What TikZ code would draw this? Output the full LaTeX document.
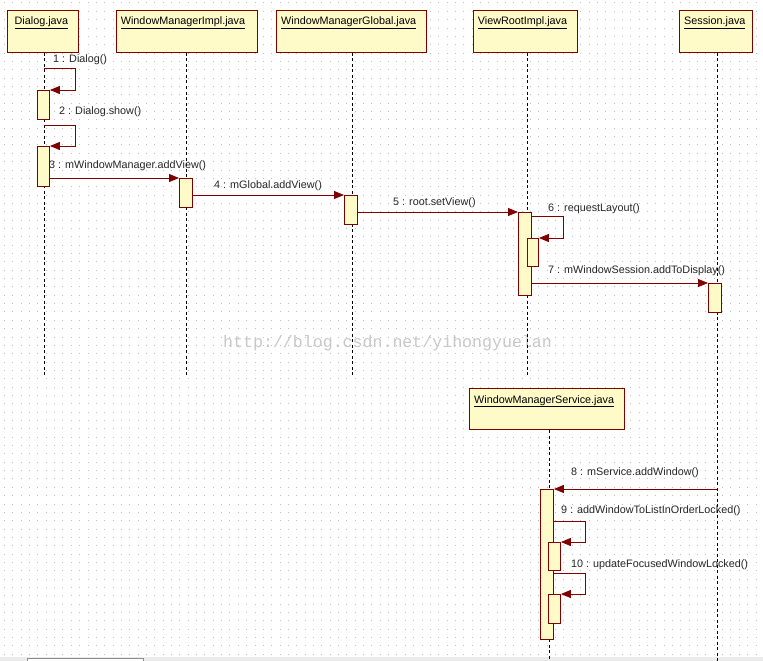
\documentclass[tikz,border=0pt]{standalone}
\usepackage{fontspec}
\setmainfont{Liberation Sans}
\newfontfamily\wmfont{Liberation Mono}
\usetikzlibrary{arrows.meta}
\definecolor{boxfill}{RGB}{255,251,200}
\definecolor{boxline}{RGB}{128,0,0}
\definecolor{msgcol}{RGB}{128,0,0}
\definecolor{dotcol}{RGB}{190,190,190}
\definecolor{wmcol}{RGB}{200,200,200}
\begin{document}
\begin{tikzpicture}[x=1pt,y=-1pt,
  objbox/.style={draw=boxline,fill=boxfill,line width=1pt,rectangle,inner sep=0pt,anchor=north west},
  actbar/.style={draw=boxline,fill=boxfill,line width=0.9pt,rectangle,inner sep=0pt,anchor=north west},
  lifeline/.style={draw=black,line width=0.9pt,dash pattern=on 3pt off 2.5pt},
  msg/.style={draw=msgcol,line width=1pt,-{Triangle[length=10pt,width=8pt]}},
  title/.style={anchor=base west,font=\fontsize{10.8}{12}\selectfont,inner sep=0pt},
  lbl/.style={anchor=base west,font=\fontsize{10.8}{12}\selectfont,inner sep=0pt,text=black!85},
]
\useasboundingbox (0,0) rectangle (763,661);
\fill[white] (0,0) rectangle (763,661);
% dotted grid
\foreach \j in {0,...,78}
  \draw[dotcol,line width=1pt,dash pattern=on 1pt off 7.35pt] (4,{3+\j*8.35}) -- (763,{3+\j*8.35});
% bottom strip
\fill[black!8] (0,657) rectangle (763,661);
\draw[black!45,fill=white,line width=0.8pt] (27,658.5) rectangle (143,663);
% watermark
\node[anchor=base west,inner sep=0pt,text=wmcol,font=\wmfont\fontsize{16.6}{18}\selectfont] (wm) at (223,347) {http://blog.csdn.net/yihongyuelan};

% object boxes
\node[objbox,minimum width=71pt,minimum height=42pt] (dlg) at (7,10) {};
\node[objbox,minimum width=141pt,minimum height=42pt] (impl) at (116,10) {};
\node[objbox,minimum width=150pt,minimum height=42pt] (glob) at (276,10) {};
\node[objbox,minimum width=104pt,minimum height=42pt] (vroot) at (473,10) {};
\node[objbox,minimum width=73pt,minimum height=42pt] (sess) at (679,10) {};
\node[objbox,minimum width=155pt,minimum height=41pt] (wms) at (469,388) {};

\node[title] (dlgT) at (14.5,25) {\underline{Dialog.java}};
\node[title] (implT) at (120.7,25) {\underline{WindowManagerImpl.java}};
\node[title] (globT) at (281,25) {\underline{WindowManagerGlobal.java}};
\node[title] (vrootT) at (477.7,25) {\underline{ViewRootImpl.java}};
\node[title] (sessT) at (684,25) {\underline{Session.java}};
\node[title] (wmsT) at (474,403) {\underline{WindowManagerService.java}};

% lifeline ends
\coordinate (dlgE) at (44,376);
\coordinate (implE) at (186,376);
\coordinate (globE) at (352,376);
\coordinate (vrootE) at (527,376);
\coordinate (sessE) at (717,661);
\coordinate (wmsE) at (549,661);
\draw[lifeline] (dlgE |- dlg.south) -- (dlgE);
\draw[lifeline] (implE |- impl.south) -- (implE);
\draw[lifeline] (globE |- glob.south) -- (globE);
\draw[lifeline] (vrootE |- vroot.south) -- (vrootE);
\draw[lifeline] (sessE |- sess.south) -- (sessE);
\draw[lifeline] (wmsE |- wms.south) -- (wmsE);

% activation bars
\node[actbar,minimum width=12pt,minimum height=29pt] (d1) at (37,90) {};
\node[actbar,minimum width=12pt,minimum height=40pt] (d2) at (37,146) {};
\node[actbar,minimum width=13pt,minimum height=29pt] (i1) at (179,178) {};
\node[actbar,minimum width=13pt,minimum height=29pt] (g1) at (344,195) {};
\node[actbar,minimum width=13pt,minimum height=83pt] (v1) at (518,212) {};
\node[actbar,minimum width=11pt,minimum height=28pt] (v2) at (527,238) {};
\node[actbar,minimum width=13pt,minimum height=29pt] (s1) at (708,283) {};
\node[actbar,minimum width=13pt,minimum height=150pt] (w1) at (540,489) {};
\node[actbar,minimum width=12pt,minimum height=28pt] (w2) at (548,542) {};
\node[actbar,minimum width=12pt,minimum height=29pt] (w3) at (548,594) {};

% message helper coordinates
\coordinate (m1a) at (44,69);
\coordinate (m1b) at (75,90);
\coordinate (m2a) at (44,125);
\coordinate (m2b) at (75,146);
\coordinate (m6a) at (531,216);
\coordinate (m6b) at (563,238);
\coordinate (m8a) at (717,489);
\coordinate (m9a) at (553,521);
\coordinate (m9b) at (585,542);
\coordinate (m10a) at (553,573);
\coordinate (m10b) at (585,594);

% messages
\draw[msg] (m1a) -| (m1b) -- (d1.north east);
\draw[msg] (m2a) -| (m2b) -- (d2.north east);
\draw[msg] (d2.east |- i1.north) -- (i1.north west);
\draw[msg] (i1.east |- g1.north) -- (g1.north west);
\draw[msg] (g1.east |- v1.north) -- (v1.north west);
\draw[msg] (m6a) -| (m6b) -- (v2.north east);
\draw[msg] (v1.east |- s1.north) -- (s1.north west);
\draw[msg] (m8a) -- (w1.north east);
\draw[msg] (m9a) -| (m9b) -- (w2.north east);
\draw[msg] (m10a) -| (m10b) -- (w3.north east);

% message labels
\node[lbl] (l1) at (53,63) {1 : Dialog()};
\node[lbl] (l2) at (59,114) {2 : Dialog.show()};
\node[lbl] (l3) at (49,168) {3 : mWindowManager.addView()};
\node[lbl] (l4) at (214,188) {4 : mGlobal.addView()};
\node[lbl] (l5) at (393,205) {5 : root.setView()};
\node[lbl] (l6) at (548,211) {6 : requestLayout()};
\node[lbl] (l7) at (548,273) {7 : mWindowSession.addToDisplay()};
\node[lbl] (l8) at (571,475) {8 : mService.addWindow()};
\node[lbl] (l9) at (561,513) {9 : addWindowToListInOrderLocked()};
\node[lbl] (l10) at (571,567) {10 : updateFocusedWindowLocked()};
\end{tikzpicture}
\end{document}
